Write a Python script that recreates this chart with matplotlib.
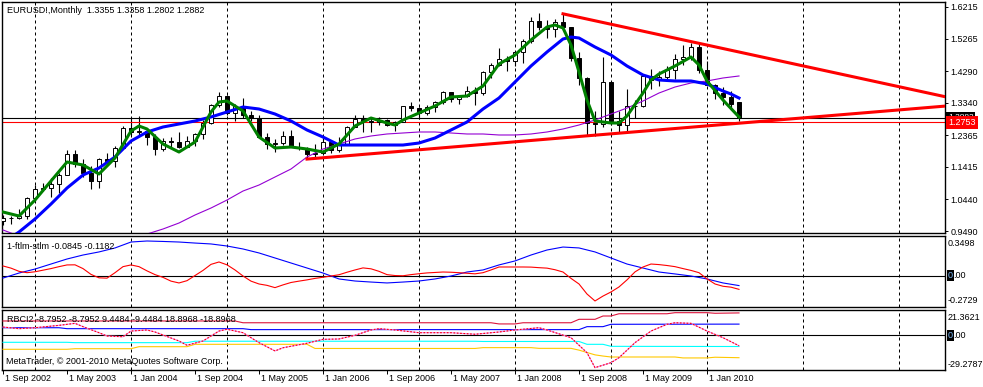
import numpy as np
import matplotlib.pyplot as plt

plt.rcParams['font.family'] = ['Liberation Sans', 'DejaVu Sans']

# monthly bars, index 0 = Sep 2002 ... 92 = May 2010
opens = [0.9800, 0.9870, 0.9890, 0.9930, 1.0487, 1.0760, 1.0790, 1.0910, 1.1180, 1.1800,
         1.1490, 1.1240, 1.0990, 1.1650, 1.1590, 1.1980, 1.2595, 1.2460, 1.2480, 1.2310,
         1.1965, 1.2200, 1.2170, 1.2020, 1.2190, 1.2415, 1.2745, 1.3285, 1.3555, 1.3040,
         1.3240, 1.2965, 1.2880, 1.2300, 1.2100, 1.2125, 1.2340, 1.2025, 1.1985, 1.1790,
         1.1845, 1.2155, 1.1920, 1.2115, 1.2620, 1.2845, 1.2795, 1.2770, 1.2810, 1.2675,
         1.2760, 1.3245, 1.3195, 1.3025, 1.3225, 1.3355, 1.3655, 1.3450, 1.3540, 1.3690,
         1.3640, 1.4255, 1.4480, 1.4640, 1.4590, 1.4860, 1.5185, 1.5790, 1.5600, 1.5550,
         1.5755, 1.5600, 1.4670, 1.4090, 1.2720, 1.2700, 1.3970, 1.2800, 1.2670, 1.3250,
         1.3240, 1.4150, 1.4030, 1.4100, 1.4330, 1.4640, 1.4720, 1.5000, 1.4320, 1.3865,
         1.3625, 1.3510, 1.3355]
highs = [0.9960, 0.9930, 1.0140, 1.0500, 1.0870, 1.0930, 1.1080, 1.1220, 1.1930, 1.1930,
         1.1640, 1.1440, 1.1680, 1.1820, 1.2040, 1.2650, 1.2900, 1.2930, 1.2480, 1.2390,
         1.2280, 1.2310, 1.2460, 1.2340, 1.2420, 1.2830, 1.3310, 1.3670, 1.3580, 1.3290,
         1.3490, 1.3090, 1.2970, 1.2420, 1.2260, 1.2480, 1.2520, 1.2170, 1.2000, 1.2090,
         1.2320, 1.2160, 1.2300, 1.2630, 1.2980, 1.2960, 1.2900, 1.2910, 1.2860, 1.2780,
         1.3250, 1.3370, 1.3200, 1.3260, 1.3400, 1.3680, 1.3660, 1.3550, 1.3850, 1.3800,
         1.4280, 1.4530, 1.4970, 1.4750, 1.4900, 1.5240, 1.5900, 1.6020, 1.5820, 1.5840,
         1.6040, 1.5620, 1.4870, 1.4100, 1.3080, 1.4720, 1.3980, 1.3080, 1.3740, 1.3430,
         1.4180, 1.4340, 1.4300, 1.4440, 1.4800, 1.5060, 1.5140, 1.5140, 1.4580, 1.3900,
         1.3820, 1.3690, 1.3358]
lows = [0.9680, 0.9690, 0.9860, 0.9860, 1.0350, 1.0690, 1.0500, 1.0620, 1.1160, 1.1410,
        1.1120, 1.0760, 1.0770, 1.1530, 1.1400, 1.1970, 1.2360, 1.2360, 1.2080, 1.1760,
        1.1900, 1.2010, 1.1990, 1.2000, 1.2040, 1.2260, 1.2700, 1.3210, 1.2980, 1.2780,
        1.2870, 1.2790, 1.2270, 1.1950, 1.1870, 1.2080, 1.2000, 1.1910, 1.1640, 1.1680,
        1.1800, 1.1830, 1.1870, 1.2070, 1.2600, 1.2460, 1.2460, 1.2660, 1.2630, 1.2480,
        1.2750, 1.3100, 1.2860, 1.2970, 1.3070, 1.3300, 1.3370, 1.3300, 1.3510, 1.3260,
        1.3560, 1.4070, 1.4440, 1.4290, 1.4430, 1.4530, 1.5140, 1.5530, 1.5280, 1.5300,
        1.5550, 1.4600, 1.3880, 1.2330, 1.2330, 1.2610, 1.2660, 1.2450, 1.2460, 1.2890,
        1.3200, 1.3750, 1.3850, 1.4040, 1.4050, 1.4480, 1.4630, 1.4220, 1.3860, 1.3440,
        1.3270, 1.3120, 1.2802]
closes = [0.9870, 0.9890, 0.9930, 1.0487, 1.0760, 1.0790, 1.0910, 1.1180, 1.1800, 1.1490,
          1.1240, 1.0990, 1.1650, 1.1590, 1.1980, 1.2595, 1.2460, 1.2480, 1.2310, 1.1965,
          1.2200, 1.2170, 1.2020, 1.2190, 1.2415, 1.2745, 1.3285, 1.3555, 1.3040, 1.3240,
          1.2965, 1.2880, 1.2300, 1.2100, 1.2125, 1.2340, 1.2025, 1.1985, 1.1790, 1.1845,
          1.2155, 1.1920, 1.2115, 1.2620, 1.2845, 1.2795, 1.2770, 1.2810, 1.2675, 1.2760,
          1.3245, 1.3195, 1.3025, 1.3225, 1.3355, 1.3655, 1.3450, 1.3540, 1.3690, 1.3640,
          1.4255, 1.4480, 1.4640, 1.4590, 1.4860, 1.5185, 1.5790, 1.5600, 1.5550, 1.5755,
          1.5600, 1.4670, 1.4090, 1.2720, 1.2700, 1.3970, 1.2800, 1.2670, 1.3250, 1.3240,
          1.4150, 1.4030, 1.4100, 1.4330, 1.4640, 1.4720, 1.5000, 1.4320, 1.3865, 1.3625,
          1.3510, 1.3295, 1.2882]
bid = 1.2753

# indicator lines on the price chart
green_m = [0, 2, 4, 6, 8, 10, 12, 14, 16, 17, 18, 20, 22, 24, 26, 27, 28, 30, 32, 34,
           36, 38, 40, 42, 44, 46, 48, 49, 50, 52, 54, 56, 58, 60, 62, 64, 66, 68, 69, 70,
           71, 72, 73, 74, 76, 77, 78, 80, 81, 82, 84, 86, 87, 88, 90, 92]
green_v = [1.0061, 0.9941, 1.0421, 1.0992, 1.1562, 1.1472, 1.1202, 1.1682, 1.2493, 1.2643,
           1.2553, 1.2102, 1.1862, 1.2162, 1.3063, 1.3363, 1.3393, 1.3093, 1.2312, 1.1982,
           1.2012, 1.1952, 1.1862, 1.2102, 1.2643, 1.2883, 1.2733, 1.2673, 1.2823, 1.3033,
           1.3243, 1.3513, 1.3543, 1.3843, 1.4504, 1.4774, 1.5224, 1.5615, 1.5675, 1.5585,
           1.5074, 1.4264, 1.3423, 1.2793, 1.2733, 1.2733, 1.2943, 1.3633, 1.4024, 1.4204,
           1.4444, 1.4714, 1.4474, 1.3994, 1.3423, 1.2913]
blue_m = [1, 2, 4, 6, 8, 10, 12, 14, 16, 18, 20, 22, 24, 26, 28, 30, 32, 34, 36, 38,
          40, 42, 44, 46, 48, 50, 52, 54, 56, 58, 60, 62, 64, 66, 68, 70, 71, 72, 74, 76,
          78, 80, 82, 84, 86, 88, 90, 91, 92]
blue_v = [0.930, 0.946, 0.9851, 1.0301, 1.0781, 1.1172, 1.1382, 1.1712, 1.2192, 1.2462,
          1.2613, 1.2703, 1.2793, 1.2913, 1.3063, 1.3213, 1.3153, 1.3003, 1.2793, 1.2523,
          1.2312, 1.2072, 1.2072, 1.2072, 1.2072, 1.2072, 1.2132, 1.2282, 1.2523, 1.2763,
          1.3153, 1.3483, 1.3963, 1.4444, 1.4864, 1.5254, 1.5314, 1.5284, 1.5014, 1.4774,
          1.4444, 1.4174, 1.4024, 1.3994, 1.3994, 1.3904, 1.3693, 1.3603, 1.3483]
purple_m = [0, 2, 10, 17, 18, 20, 22, 24, 26, 28, 30, 32, 34, 36, 38, 40, 42, 44, 46, 48,
            50, 52, 54, 56, 58, 60, 62, 64, 66, 68, 70, 72, 74, 76, 78, 80, 82, 84, 86, 88,
            90, 92]
purple_v = [0.9521, 0.9340, np.nan, 0.9310, 0.9400, 0.9551, 0.9731, 0.9971, 1.0181, 1.0421,
            1.0691, 1.0871, 1.1112, 1.1352, 1.1712, 1.1952, 1.2102, 1.2253, 1.2343, 1.2403,
            1.2433, 1.2463, 1.2463, 1.2433, 1.2403, 1.2403, 1.2373, 1.2373, 1.2403, 1.2463,
            1.2553, 1.2673, 1.2823, 1.3003, 1.3183, 1.3393, 1.3633, 1.3813, 1.3934, 1.3994,
            1.4084, 1.4144]

# trend lines (month, price)
upper_m = [70, 118]
upper_v = [1.6010, 1.3510]
lower_m = [38, 118]
lower_v = [1.1650, 1.3245]

# 1-ftlm-stlm window
stlm_m = list(range(0, 93, 2))
stlm_v = [-0.019, 0.025, 0.060, 0.104, 0.148, 0.183, 0.210, 0.245, 0.297, 0.306,
          0.302, 0.297, 0.288, 0.280, 0.262, 0.236, 0.201, 0.157, 0.113, 0.069,
          0.025, -0.027, -0.045, -0.054, -0.062, -0.054, -0.045, -0.027, -0.001, 0.034,
          0.052, 0.096, 0.131, 0.183, 0.227, 0.253, 0.245, 0.210, 0.157, 0.104,
          0.069, 0.034, 0.017, -0.001, -0.027, -0.062, -0.085]
ftlm_v = [0.087, 0.068, 0.040, 0.028, 0.036, 0.050, 0.064, 0.081, 0.096, 0.097,
          0.064, 0.013, -0.017, -0.020, 0.028, 0.081, 0.096, 0.081, 0.044, 0.011,
          -0.013, -0.046, -0.062, -0.042, 0.003, 0.048, 0.101, 0.122, 0.097, 0.052,
          -0.001, -0.046, -0.071, -0.083, -0.103, -0.079, -0.058, -0.046, -0.035, -0.022,
          -0.012, -0.001, 0.010, 0.032, 0.052, 0.070, 0.062, 0.040, 0.011, 0.003,
          0.001, 0.011, 0.019, 0.026, 0.030, 0.034, 0.032, 0.028, 0.023, 0.018,
          0.028, 0.052, 0.078, 0.078, 0.078, 0.078, 0.077, 0.072, 0.068, 0.054,
          0.034, -0.022, -0.071, -0.159, -0.220, -0.177, -0.141, -0.097, -0.035, 0.035,
          0.078, 0.104, 0.099, 0.091, 0.081, 0.064, 0.048, 0.028, -0.026, -0.071,
          -0.091, -0.099, -0.118]

# RBCI2 window
rbci_m = [0, 2, 4, 7, 9, 10, 12, 13, 15, 16, 18, 19, 22, 23, 25, 27, 28, 30, 32, 34,
          35, 38, 40, 42, 44, 46, 47, 49, 52, 56, 59, 62, 64, 67, 68, 71, 73, 74, 76, 77,
          79, 81, 83, 84, 86, 88, 90, 92]
rbci_v = [7.0, 5.6, 6.4, 8.4, 10.1, 7.3, 2.2, -0.6, -1.2, 3.6, 4.5, 2.8, -4.8, -8.4, -4.8,
          3.6, 5.1, 2.2, -6.2, -13.2, -10.5, -6.7, -3.4, -3.1, 0.0, 4.5, 5.6, 4.5, 2.2, 2.2,
          0.9, 2.8, 4.5, 6.4, 4.5, -2.0, -14.7, -27.3, -23.1, -18.9, -6.2, 3.6, 9.3, 10.6,
          10.1, 3.6, -2.0, -8.8]
up2_m = [0, 29, 30, 61, 62, 64, 65, 71, 72, 74, 75, 76, 77, 83, 84, 88, 89, 92]
up2_v = [12.1, 12.1, 10.6, 10.6, 9.6, 9.6, 10.6, 10.6, 13.5, 13.5, 16.3, 16.3, 18.2, 18.2,
         19.1, 19.1, 18.6, 18.9]
up1_m = [0, 7, 8, 30, 31, 72, 73, 75, 76, 92]
up1_v = [6.4, 6.4, 5.6, 5.6, 4.8, 4.8, 7.3, 7.3, 9.3, 9.45]
dn1_m = [0, 8, 9, 23, 24, 59, 60, 72, 73, 75, 76, 92]
dn1_v = [-5.9, -5.9, -6.2, -6.2, -5.0, -5.0, -5.2, -5.2, -7.6, -7.6, -9.3, -9.45]
dn2_m = [0, 8, 9, 16, 17, 23, 24, 38, 39, 59, 60, 66, 67, 71, 72, 73, 74, 75, 76, 84,
         85, 88, 89, 92]
dn2_v = [-11.8, -11.8, -11.3, -11.3, -9.6, -9.6, -7.6, -7.6, -11.1, -11.1, -10.4, -10.4,
         -11.0, -11.0, -12.5, -14.5, -16.5, -17.5, -18.3, -18.3, -19.1, -19.1, -18.5, -18.9]

price_ticks = [1.6215, 1.5265, 1.4290, 1.3340, 1.2365, 1.1415, 1.0440, 0.9490]
date_m = list(range(0, 89, 8))
date_labels = ['1 Sep 2002', '1 May 2003', '1 Jan 2004', '1 Sep 2004', '1 May 2005',
               '1 Jan 2006', '1 Sep 2006', '1 May 2007', '1 Jan 2008', '1 Sep 2008',
               '1 May 2009', '1 Jan 2010']
grid_m = [4, 16, 28, 40, 52, 64, 76, 88, 100, 112]

W, H = 983, 387
fig = plt.figure(figsize=(W / 100, H / 100), dpi=100)


def frame(top, bottom):
    return [2 / W, 1 - bottom / H, 943 / W, (bottom - top) / H]


ax1 = fig.add_axes(frame(2, 233))
ax2 = fig.add_axes(frame(236, 307))
ax3 = fig.add_axes(frame(310, 370))

fs = 6.5
for ax in (ax1, ax2, ax3):
    ax.set_xlim(-0.125, 117.75)
    for s in ax.spines.values():
        s.set_linewidth(1.0)
        s.set_color('black')
    for g in grid_m:
        ax.axvline(g, color='black', lw=0.72, ls=(0, (3, 3)), zorder=1)
    ax.tick_params(axis='x', bottom=False, labelbottom=False)
    ax.set_yticks([])

# ---- price window
ax1.set_ylim(0.9431, 1.6365)
o = np.array(opens)
c = np.array(closes)
m = np.arange(len(c))
ax1.vlines(m, lows, highs, color='black', lw=0.8, zorder=2)
body_lo = np.minimum(o, c)
body_h = np.maximum(np.abs(c - o), 0.0004)
ax1.bar(m, body_h, bottom=body_lo, width=0.5,
        color=np.where(c >= o, 'white', 'black'), edgecolor='black', lw=0.7, zorder=3)

ax1.axhline(closes[-1], color='black', lw=0.8, zorder=2)
ax1.axhline(bid, color='red', lw=0.8, zorder=2)

ax1.plot(purple_m, purple_v, color='#9400d3', lw=0.8, zorder=4)
ax1.plot(blue_m, blue_v, color='#0000ff', lw=2.2, zorder=5)
ax1.plot(green_m, green_v, color='#008000', lw=2.2, zorder=6)
ax1.plot(upper_m, upper_v, color='red', lw=2.2, zorder=7)
ax1.plot(lower_m, lower_v, color='red', lw=2.2, zorder=7)

ax1.yaxis.tick_right()
ax1.set_yticks(price_ticks)
ax1.set_yticklabels(['%.4f' % p for p in price_ticks])
ax1.tick_params(axis='y', length=2, width=0.7, labelsize=fs, pad=2)

ax1.annotate('EURUSD!,Monthly  1.3355 1.3358 1.2802 1.2882', xy=(0, 1),
             xycoords='axes fraction', xytext=(5, -8.5), textcoords='offset pixels',
             va='center', ha='left', fontsize=fs)
# current close label sits mostly behind the bid label, as in the terminal
ax1.annotate('%.4f' % closes[-1], xy=(1, closes[-1]), xycoords=('axes fraction', 'data'),
             xytext=(3, 1), textcoords='offset pixels', va='center', ha='left',
             fontsize=fs - 0.5, color='white', annotation_clip=False, zorder=10,
             bbox=dict(boxstyle='square,pad=0.2', fc='black', ec='none'))
ax1.annotate('%.4f' % bid, xy=(1, bid), xycoords=('axes fraction', 'data'),
             xytext=(3, 0), textcoords='offset pixels', va='center', ha='left',
             fontsize=fs, color='white', annotation_clip=False, zorder=11,
             bbox=dict(boxstyle='square,pad=0.25', fc='red', ec='none'))

# ---- ftlm/stlm window
ax2.set_ylim(-0.2729, 0.3498)
ax2.axhline(0, color='black', lw=0.8, zorder=2)
ax2.plot(stlm_m, stlm_v, color='#0000ff', lw=0.8, zorder=3)
ax2.plot(m, ftlm_v, color='red', lw=0.8, zorder=4)
ax2.annotate('1-ftlm-stlm -0.0845 -0.1182', xy=(0, 1), xycoords='axes fraction',
             xytext=(5, -10.5), textcoords='offset pixels', va='center', fontsize=fs)

# ---- RBCI window
ax3.set_ylim(-29.2787, 21.3621)
ax3.axhline(0, color='black', lw=0.8, zorder=2)
ax3.plot(up2_m, up2_v, color='#dc143c', lw=0.8, zorder=3)
ax3.plot(up1_m, up1_v, color='#0000ff', lw=0.8, zorder=3)
ax3.plot(dn1_m, dn1_v, color='#00ffff', lw=0.8, zorder=3)
ax3.plot(dn2_m, dn2_v, color='#ffc800', lw=0.8, zorder=3)
ax3.plot(rbci_m, rbci_v, color='#ee82ee', lw=0.8, zorder=4)
ax3.plot(rbci_m, rbci_v, color='red', lw=0.8, ls=(0, (1.5, 1.5)), zorder=5)
ax3.annotate('RBCI2 -8.7952 -8.7952 9.4484 -9.4484 18.8968 -18.8968', xy=(0, 1),
             xycoords='axes fraction', xytext=(5, -9.5), textcoords='offset pixels',
             va='center', fontsize=fs)
ax3.annotate('MetaTrader, \u00a9 2001-2010 MetaQuotes Software Corp.', xy=(0, 0),
             xycoords='axes fraction', xytext=(4, 8.5), textcoords='offset pixels',
             va='center', fontsize=fs)

ax3.set_xticks(date_m)
ax3.tick_params(axis='x', bottom=True, length=3, width=0.7, direction='out')
for dm, lab in zip(date_m, date_labels):
    ax3.annotate(lab, xy=(dm, 0), xycoords=('data', 'axes fraction'), xytext=(2, -4),
                 textcoords='offset pixels', va='top', ha='left', fontsize=fs,
                 annotation_clip=False)

# right-hand scales of the indicator windows
for ax, top, bot, dtop, dbot in ((ax2, '0.3498', '-0.2729', -8, 6.5),
                                 (ax3, '21.3621', '-29.2787', -7.5, 5.5)):
    ax.annotate(top, xy=(1, 1), xycoords='axes fraction', xytext=(3, dtop),
                textcoords='offset pixels', va='center', fontsize=fs, annotation_clip=False)
    ax.annotate(bot, xy=(1, 0), xycoords='axes fraction', xytext=(3, dbot),
                textcoords='offset pixels', va='center', fontsize=fs, annotation_clip=False)
    ax.annotate('0', xy=(1, 0), xycoords=('axes fraction', 'data'), xytext=(3, 0),
                textcoords='offset pixels', va='center', fontsize=fs, color='#80c0ff',
                annotation_clip=False,
                bbox=dict(boxstyle='square,pad=0.1', fc='black', ec='none'))
    ax.annotate('.00', xy=(1, 0), xycoords=('axes fraction', 'data'), xytext=(8.5, 0),
                textcoords='offset pixels', va='center', fontsize=fs, annotation_clip=False)

fig.savefig('out.png', dpi=100)
